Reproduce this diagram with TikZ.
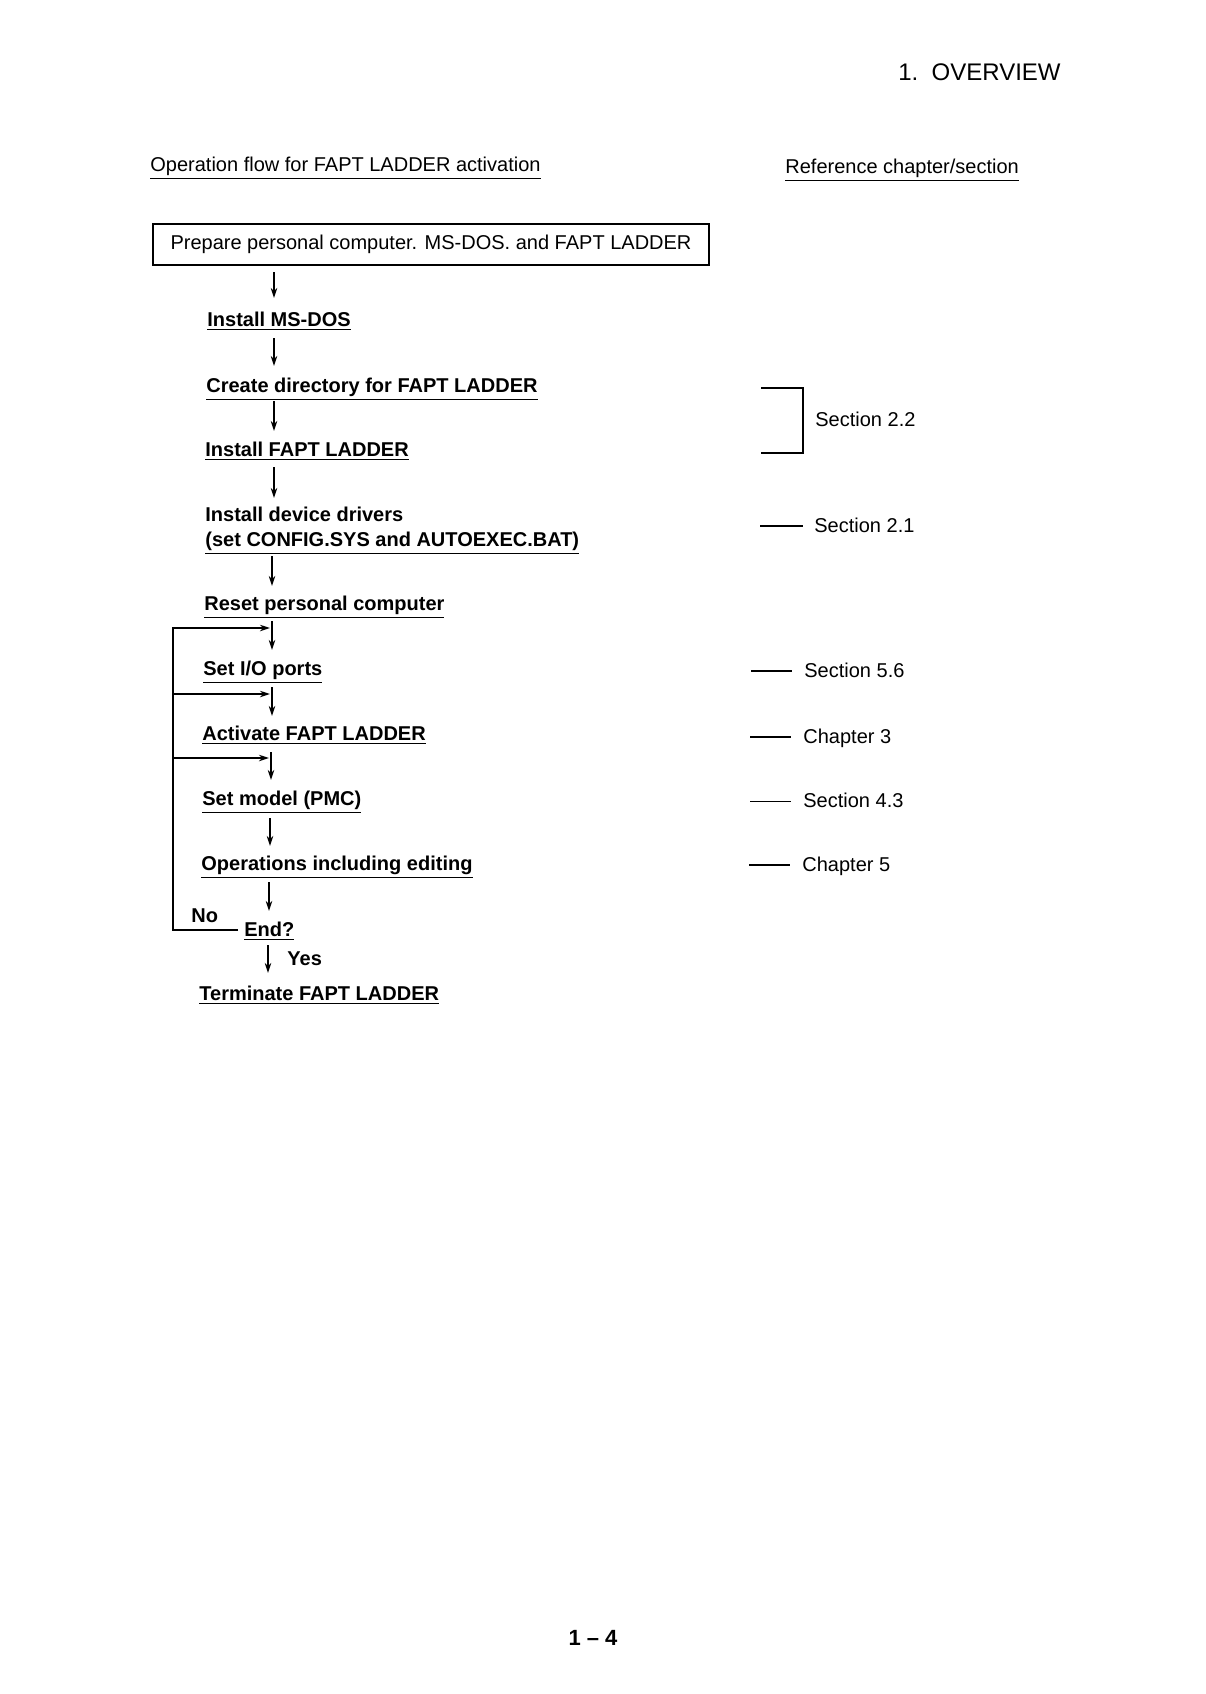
\documentclass[tikz,border=0pt]{standalone}
\usepackage{fontspec}
\setmainfont{Liberation Sans}
\usetikzlibrary{arrows.meta}
\begin{document}
\begin{tikzpicture}[x=0.5pt,y=-0.5pt,
  lbl/.style={anchor=base west,inner sep=0pt,font=\fontsize{10}{12}\selectfont\bfseries},
  txt/.style={anchor=base west,inner sep=0pt,font=\fontsize{10}{12}\selectfont},
  arr/.style={-{Stealth[length=5pt,width=3.2pt]},line width=0.8pt},
  ln/.style={line width=0.8pt}]
\useasboundingbox (0,0) rectangle (1206,1694);
\node[anchor=base east,inner sep=0pt,font=\fontsize{12}{14}\selectfont] (hdr) at (1061,80) {1.\ \ OVERVIEW};
\node[txt] (t1) at (150,171) {\underline{Operation flow for FAPT LADDER activation}};
\node[txt] (t2) at (785,173) {\underline{Reference chapter/section}};
\node[draw,line width=0.8pt,minimum width=278pt,minimum height=20.5pt,inner sep=0pt,font=\fontsize{10}{12}\selectfont] (box) at (431,244.5) {Prepare personal computer. MS-DOS. and FAPT LADDER};
\node[lbl] (n1) at (207,326) {\underline{Install MS-DOS}};
\node[lbl] (n2) at (206,392) {\underline{Create directory for FAPT LADDER}};
\node[lbl] (n3) at (205,456) {\underline{Install FAPT LADDER}};
\node[lbl] (n4) at (205,521) {Install device drivers};
\node[lbl] (n4b) at (205,546) {\underline{(set CONFIG.SYS and AUTOEXEC.BAT)}};
\node[lbl] (n5) at (204,610) {\underline{Reset personal computer}};
\node[lbl] (n6) at (203,675) {\underline{Set I/O ports}};
\node[lbl] (n7) at (202,740) {\underline{Activate FAPT LADDER}};
\node[lbl] (n8) at (202,805) {\underline{Set model (PMC)}};
\node[lbl] (n9) at (201,870) {\underline{Operations including editing}};
\node[lbl] (no) at (191,922) {No};
\node[lbl] (end) at (244,936) {\underline{End?}};
\node[lbl] (yes) at (287,965) {Yes};
\node[lbl] (n10) at (199,1000) {\underline{Terminate FAPT LADDER}};
% vertical arrows
\coordinate (a1) at (274,272); \coordinate (b1) at (274,298);
\coordinate (a2) at (274,338); \coordinate (b2) at (274,366);
\coordinate (a3) at (274,401); \coordinate (b3) at (274,431);
\coordinate (a4) at (274,467); \coordinate (b4) at (274,498);
\coordinate (a5) at (272,556); \coordinate (b5) at (272,586);
\coordinate (a6) at (272,621); \coordinate (b6) at (272,650);
\coordinate (a7) at (272,687); \coordinate (b7) at (272,716);
\coordinate (a8) at (271,752); \coordinate (b8) at (271,780);
\coordinate (a9) at (270,818); \coordinate (b9) at (270,846);
\coordinate (a10) at (269,882); \coordinate (b10) at (269,911);
\coordinate (a11) at (268,945); \coordinate (b11) at (268,973);
\foreach \i in {1,...,11} {\draw[arr] (a\i) -- (b\i);}
% loop
\coordinate (lb) at (238,930); \coordinate (lc) at (173,930);
\coordinate (lt) at (173,628);
\coordinate (h1) at (270,628); \coordinate (l2) at (173,694); \coordinate (h2) at (270,694);
\coordinate (l3) at (173,758); \coordinate (h3) at (269,758);
\draw[arr] (lb) -- (lc) -- (lt) -- (h1);
\draw[arr] (l2) -- (h2);
\draw[arr] (l3) -- (h3);
% references
\coordinate (r1) at (761,388); \coordinate (r2) at (803,388); \coordinate (r3) at (803,453); \coordinate (r4) at (761,453);
\draw[ln] (r1) -- (r2) -- (r3) -- (r4);
\node[txt] (s22) at (815,426) {Section 2.2};
\coordinate (p1) at (760,526); \coordinate (q1) at (803,526);
\draw[ln] (p1) -- (q1);
\node[txt] (s21) at (814,532) {Section 2.1};
\coordinate (p2) at (751,671); \coordinate (q2) at (792,671);
\draw[ln] (p2) -- (q2);
\node[txt] (s56) at (804,677) {Section 5.6};
\coordinate (p3) at (750,737); \coordinate (q3) at (791,737);
\draw[ln] (p3) -- (q3);
\node[txt] (c3) at (803,743) {Chapter 3};
\coordinate (p4) at (750,801); \coordinate (q4) at (791,801);
\draw[line width=0.5pt] (p4) -- (q4);
\node[txt] (s43) at (803,807) {Section 4.3};
\coordinate (p5) at (749,865); \coordinate (q5) at (790,865);
\draw[ln] (p5) -- (q5);
\node[txt] (c5) at (802,871) {Chapter 5};
\node[anchor=base,inner sep=0pt,font=\fontsize{11}{13}\selectfont\bfseries] (pg) at (593,1645) {1 -- 4};
\end{tikzpicture}
\end{document}
